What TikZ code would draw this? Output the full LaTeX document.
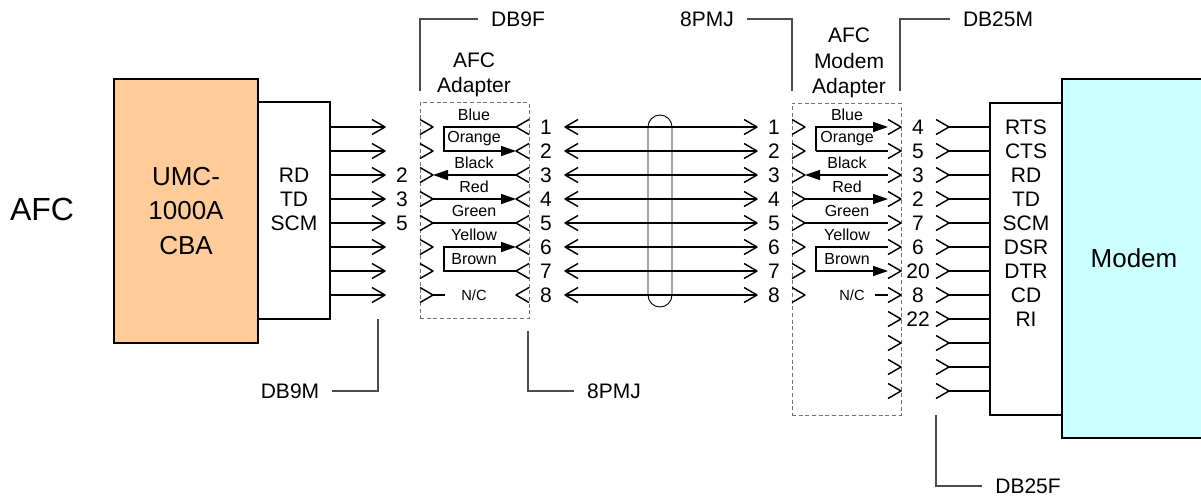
\documentclass[tikz,border=0pt]{standalone}
\usepackage{fontspec}
\setmainfont{Liberation Sans}
\usetikzlibrary{arrows.meta}
\definecolor{cbaorange}{HTML}{FFCC99}
\definecolor{modemcyan}{HTML}{CCFFFF}
\tikzset{
    wire/.style={line width=1.1pt, draw=black},
    tipwire/.style={wire, -{Triangle[length=11.25pt, width=7.5pt]}},
    box/.style={draw=black, line width=1.4pt, inner sep=0pt},
    adapter/.style={draw=black!55, line width=0.6pt, dash pattern=on 3pt off 2pt, inner sep=0pt},
    callout/.style={draw=black!70, line width=0.8pt},
    txt/.style={inner sep=0pt, font=\fontsize{15.75}{19}\selectfont, align=center},
    small/.style={inner sep=0pt, font=\fontsize{12}{14}\selectfont},
    big/.style={inner sep=0pt, font=\fontsize{19.5}{26}\selectfont, align=center},
    tag/.style={txt, outer xsep=9.75pt},
    chevr/.pic={\draw[wire, line join=round] (-13,-7.5) -- (0,0) -- (-13,7.5);},
    chevl/.pic={\draw[wire, line join=round] (13,-7.5) -- (0,0) -- (13,7.5);},
}
\begin{document}
\begin{tikzpicture}[x=0.75pt, y=-0.75pt]
    \useasboundingbox (0,0) rectangle (1201,500);

    % rows
    \foreach \i/\y in {1/127,2/151,3/175,4/199,5/223,6/247,7/271,8/295,9/319,10/343,11/367,12/391} {
      \coordinate (dbm\i) at (385,\y);
      \coordinate (dbf\i) at (433,\y);
      \coordinate (pl\i) at (516,\y);
      \coordinate (cl\i) at (565,\y);
      \coordinate (cr\i) at (757,\y);
      \coordinate (ml\i) at (805,\y);
      \coordinate (mb\i) at (888,\y);
      \coordinate (mr\i) at (901,\y);
      \coordinate (mf\i) at (949,\y);
    }
    \coordinate (jl1) at (444,127);
    \coordinate (jl2) at (444,151);
    \coordinate (jl6) at (444,247);
    \coordinate (jl7) at (444,271);
    \coordinate (jr1) at (816,127);
    \coordinate (jr2) at (816,151);
    \coordinate (jr6) at (816,247);
    \coordinate (jr7) at (816,271);
    \coordinate (ncl) at (445,295);
    \coordinate (ncr) at (875,295);

    % boxes
    \node[box, fill=cbaorange, minimum width=108pt, minimum height=198pt] (cba) at (186,211) {};
    \node[box, minimum width=54pt, minimum height=162.75pt] (pinbox) at (294,210.5) {};
    \node[box, minimum width=54pt, minimum height=234pt] (modembox) at (1026,259) {};
    \node[box, fill=modemcyan, minimum width=105pt, minimum height=269.25pt] (modem) at (1132,258.5) {};
    \node[adapter, minimum width=81.75pt, minimum height=162pt] (afcadapter) at (474.5,210.5) {};
    \node[adapter, minimum width=81.75pt, minimum height=234pt] (modemadapter) at (846.5,259) {};
    \node[draw=black, line width=0.7pt, rounded corners=9pt, minimum width=18pt, minimum height=144pt, inner sep=0pt] (shield) at (660,211) {};

    % main text
    \node[inner sep=0pt, font=\fontsize{24}{28}\selectfont] (afc) at (42,209) {AFC};
    \node[big] (umc) at (186,211) {UMC-\\1000A\\CBA};
    \node[big] (modemtxt) at (1134,258) {Modem};
    \node[txt] (afctitle) at (474,75) {AFC\\Adapter};
    \node[txt] (modemtitle) at (849,63) {AFC\\Modem\\Adapter};

    % plug and socket
    \foreach \i in {1,...,8} {
      \pic at (dbm\i) {chevr};
      \pic at (dbf\i) {chevr};
      \pic at (pl\i) {chevl};
      \pic at (cl\i) {chevl};
      \pic at (cr\i) {chevr};
      \pic at (ml\i) {chevr};
      \draw[wire] (pinbox.east |- dbm\i) -- (dbm\i);
      \draw[wire] (cl\i) -- (cr\i);
      \node[txt] (numa\i) at (546,0 |- pl\i) {\i};
      \node[txt] (numb\i) at (774,0 |- pl\i) {\i};
    }
    \foreach \i in {1,...,12} {
      \pic at (mr\i) {chevr};
      \pic at (mf\i) {chevr};
      \draw[wire] (modembox.west |- mf\i) -- (mf\i);
    }

    % adapter wiring
    \draw[tipwire] (pl1) -- (jl1) -- (jl2) -- (pl2);
    \draw[tipwire] (pl3) -- (dbf3);
    \draw[tipwire] (dbf4) -- (pl4);
    \draw[wire] (dbf5) -- (pl5);
    \draw[tipwire] (pl7) -- (jl7) -- (jl6) -- (pl6);
    \draw[wire] (dbf8) -- (ncl);
    \draw[tipwire] (jr2) -- (jr1) -- (mb1);
    \draw[wire] (mb2) -- (jr2);
    \draw[tipwire] (mb3) -- (ml3);
    \draw[tipwire] (ml4) -- (mb4);
    \draw[wire] (ml5) -- (mb5);
    \draw[tipwire] (mb6) -- (jr6) -- (jr7) -- (mb7);
    \draw[wire] (ncr) -- (mb8);

    % wire colours
    \foreach \j/\c [count=\i] in {115/Blue,139/Orange,163/Black,187/Red,211/Green,235/Yellow,259/Brown} {
      \node[small] (lwire\i) at (474,\j) {\c};
      \node[small] (rwire\i) at (847,\j) {\c};
    }
    \node[small, font=\fontsize{11}{13}\selectfont] (ncltxt) at (474,295) {N/C};
    \node[small, font=\fontsize{11}{13}\selectfont] (ncrtxt) at (852,295) {N/C};

    % pin numbers
    \foreach \t/\i in {2/3,3/4,5/5} {
      \node[txt] (pina\i) at (402,0 |- dbm\i) {\t};
    }
    \foreach \t/\i in {4/1,5/2,3/3,2/4,7/5,6/6,20/7,8/8,22/9} {
      \node[txt] (pinb\i) at (918,0 |- mr\i) {\t};
    }
    \foreach \t/\i in {RD/3,TD/4,SCM/5} {
      \node[txt] (sigl\i) at (294,0 |- dbm\i) {\t};
    }
    \foreach \t/\i in {RTS/1,CTS/2,RD/3,TD/4,SCM/5,DSR/6,DTR/7,CD/8,RI/9} {
      \node[txt] (sigr\i) at (1026,0 |- mr\i) {\t};
    }

    % callouts
    \node[tag] (db9f) at (518,19) {DB9F};
    \node[tag] (pmjtop) at (707,19) {8PMJ};
    \node[tag] (db25m) at (998,19) {DB25M};
    \node[tag] (db9m) at (290,391) {DB9M};
    \node[tag] (pmjbot) at (614,391) {8PMJ};
    \node[tag] (db25f) at (1028,486) {DB25F};
    \coordinate (db9fend) at (420,91);
    \coordinate (pmjtopend) at (792,91);
    \coordinate (db25mend) at (900,91);
    \coordinate (db9mend) at (378,319);
    \coordinate (pmjbotend) at (528,331);
    \coordinate (db25fend) at (936,415);
    \draw[callout] (db9fend) |- (db9f);
    \draw[callout] (pmjtopend) |- (pmjtop);
    \draw[callout] (db25mend) |- (db25m);
    \draw[callout] (db9mend) |- (db9m);
    \draw[callout] (pmjbotend) |- (pmjbot);
    \draw[callout] (db25fend) |- (db25f);
\end{tikzpicture}
\end{document}
